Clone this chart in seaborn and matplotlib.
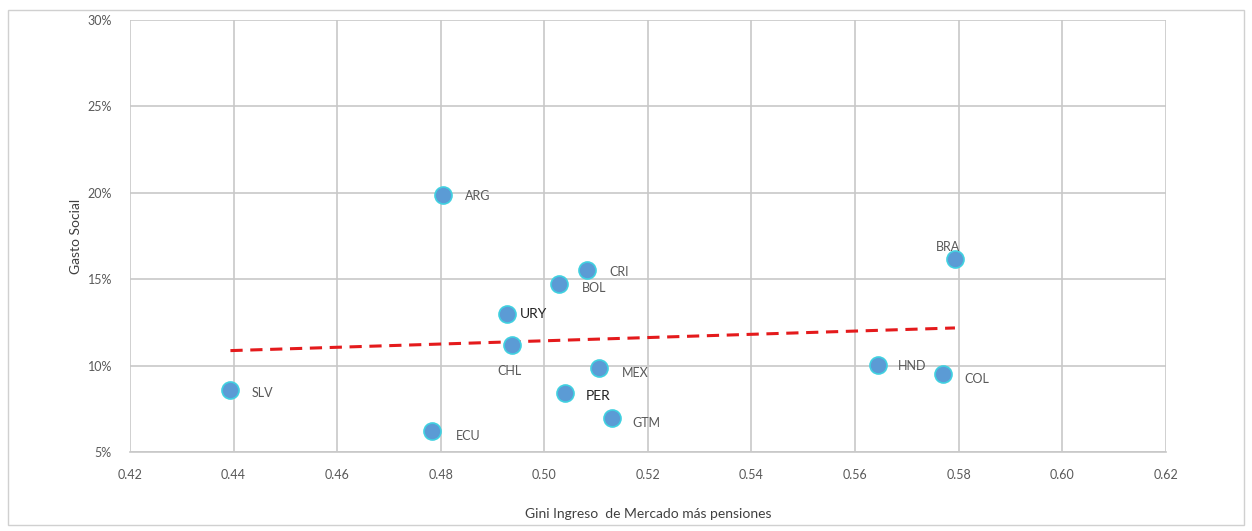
import numpy as np
import pandas as pd
import matplotlib.pyplot as plt
import seaborn as sns
from matplotlib.patches import Rectangle
from matplotlib.ticker import FuncFormatter

# datos
paises = ["ARG", "CRI", "BOL", "URY", "CHL", "MEX", "PER", "GTM", "ECU", "SLV", "BRA", "HND", "COL"]
gini = [0.4804, 0.5082, 0.5029, 0.4928, 0.4937, 0.5105, 0.5040, 0.5130, 0.4784, 0.4394, 0.5793, 0.5645, 0.5769]
gasto = [19.9, 15.56, 14.73, 12.98, 11.2, 9.84, 8.39, 6.94, 6.2, 8.59, 16.15, 10.04, 9.49]
xticks = [0.42, 0.44, 0.46, 0.48, 0.50, 0.52, 0.54, 0.56, 0.58, 0.60, 0.62]
yticks = [5, 10, 15, 20, 25, 30]

# posicion de cada etiqueta (offset en puntos)
offsets = {"ARG": (16, -4), "CRI": (16, -5), "BOL": (16, -6), "URY": (9, -3), "CHL": (-10, -22),
           "MEX": (17, -6), "PER": (15, -5), "GTM": (15, -6), "ECU": (17, -6), "SLV": (15, -5),
           "BRA": (-14, 6), "HND": (14, -4), "COL": (16, -6)}

data = pd.DataFrame({"pais": paises, "gini": gini, "gasto": gasto})

sns.set_style("white")
plt.rcParams['font.family'] = ['Lato', 'DejaVu Sans']

fig = plt.figure(figsize=(12.52, 5.31), dpi=100)
ax = fig.add_axes([0.1038, 0.1488, 0.8273, 0.8135])

ax.grid(True, color="#c8c8c8", linewidth=1.2)
ax.set_axisbelow(True)

sns.regplot(data=data, x="gini", y="gasto", ax=ax, ci=None, scatter=False,
            line_kws=dict(color="#e41a1c", linestyle=(0, (4, 2.5)), linewidth=2.2))
sns.scatterplot(data=data, x="gini", y="gasto", ax=ax, s=150, color="#5b9bd5",
                edgecolor="#40d0e0", linewidth=1.2, zorder=3)

for p, x, y in zip(paises, gini, gasto):
    dark = p in ("URY", "PER")
    ax.annotate(p, (x, y), xytext=offsets[p], textcoords="offset points",
                fontsize=10 if dark else 9, color="#222222" if dark else "#595959")

ax.set_xlim(0.42, 0.62)
ax.set_ylim(5, 30)
ax.set_xticks(xticks)
ax.set_yticks(yticks)
ax.xaxis.set_major_formatter(FuncFormatter(lambda v, _: f"{v:.2f}"))
ax.yaxis.set_major_formatter(FuncFormatter(lambda v, _: f"{v:.0f}%"))
ax.tick_params(axis="x", labelsize=9, colors="#595959", pad=12, length=0)
ax.tick_params(axis="y", labelsize=9, colors="#595959", pad=13, length=0)
ax.set_xlabel("Gini Ingreso  de Mercado más pensiones", fontsize=10, color="#404040", labelpad=20)
ax.set_ylabel("Gasto Social", fontsize=10, color="#404040", labelpad=4)

for s in ["top", "right", "left"]:
    ax.spines[s].set_visible(False)
ax.spines["bottom"].set_color("#c8c8c8")
ax.spines["bottom"].set_linewidth(1.2)

fig.patches.append(Rectangle((0.006, 0.012), 0.988, 0.97, transform=fig.transFigure,
                             fill=False, edgecolor="#d0d0d0", linewidth=1))

fig.savefig("out.png", dpi=100)
